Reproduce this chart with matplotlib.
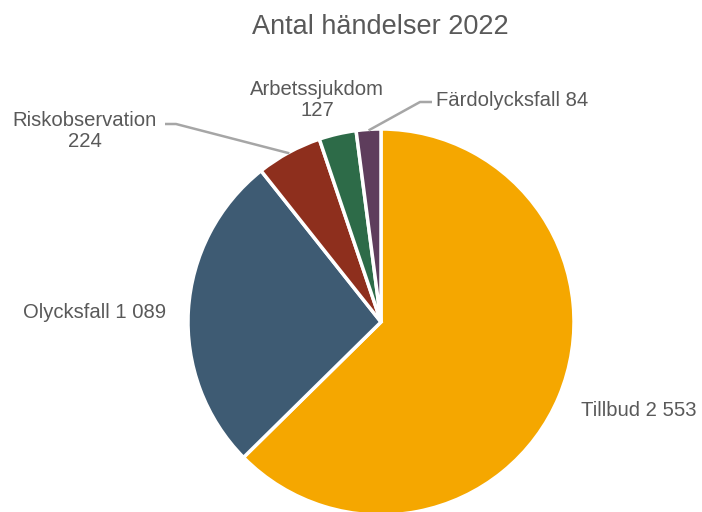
import numpy as np
import matplotlib
matplotlib.use("Agg")
import matplotlib.pyplot as plt

plt.rcParams["font.family"] = ["Liberation Sans", "DejaVu Sans"]

CATEGORIES = ["Tillbud", "Olycksfall", "Riskobservation", "Arbetssjukdom", "Färdolycksfall"]
COUNTS = [2553, 1089, 224, 127, 84]
LABELS = ["Tillbud 2 553", "Olycksfall 1 089", "Riskobservation\n224", "Arbetssjukdom\n127", "Färdolycksfall 84"]
COLORS = ["#F5A700", "#3E5B73", "#8E2F1D", "#2D6B48", "#5E3D5C"]

TEXT_COLOR = "#595959"
LINE_COLOR = "#A6A6A6"

W, H = 702, 512
fig = plt.figure(figsize=(W / 100, H / 100), dpi=100)
ax = fig.add_axes([0, 0, 1, 1])

cx, cy, r = 381, H - 322, 193
wedges, _ = ax.pie(
    COUNTS,
    startangle=90,
    counterclock=False,
    colors=COLORS,
    center=(cx, cy),
    radius=r,
    wedgeprops=dict(edgecolor="white", linewidth=2.5),
    frame=True,
)
ax.set_xlim(0, W)
ax.set_ylim(0, H)
ax.set_aspect("equal")
ax.axis("off")


def edge_point(w, rr):
    mid = np.deg2rad((w.theta1 + w.theta2) / 2)
    return cx + rr * np.cos(mid), cy + rr * np.sin(mid)


fs = 14.6
# labels placed beside the pie
ax.text(639, H - 410, LABELS[0], ha="center", va="center", fontsize=fs, color=TEXT_COLOR)
ax.text(95, H - 313, LABELS[1], ha="center", va="center", fontsize=fs, color=TEXT_COLOR)
ax.text(85, H - 131, LABELS[2], ha="center", va="center", fontsize=fs, color=TEXT_COLOR,
        linespacing=1.15)
ax.text(317, H - 100, LABELS[3], ha="center", va="center", fontsize=fs, color=TEXT_COLOR,
        linespacing=1.15)
ax.text(436, H - 100, LABELS[4], ha="left", va="center", fontsize=fs, color=TEXT_COLOR)

# leader lines for the two small slices
tx, ty = edge_point(wedges[2], r - 1)
ax.plot([165, 176, tx], [H - 124, H - 124, ty], color=LINE_COLOR, lw=1.8,
        solid_capstyle="butt")
tx, ty = edge_point(wedges[4], r - 1)
ax.plot([432, 420, tx], [H - 102, H - 102, ty], color=LINE_COLOR, lw=1.8,
        solid_capstyle="butt")

fig.text(380 / W, 1 - 27 / H, "Antal händelser 2022", ha="center", va="center",
         fontsize=19.5, color=TEXT_COLOR)

fig.savefig("out.png", dpi=100)
